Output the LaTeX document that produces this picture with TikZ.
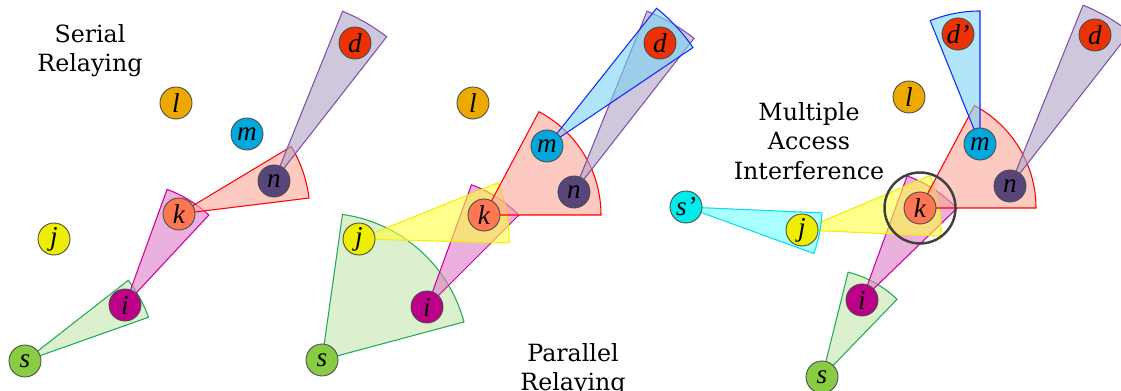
\documentclass[tikz,border=0pt]{standalone}
\usepackage{fontspec}
\setmainfont{DejaVu Serif}
\newfontfamily\letterfont{Liberation Serif}
\usetikzlibrary{backgrounds}

\definecolor{rimgray}{RGB}{75,75,75}
\definecolor{ringgray}{RGB}{64,64,64}
\definecolor{dcol}{RGB}{235,50,5}
\definecolor{lcol}{RGB}{236,170,0}
\definecolor{mcol}{RGB}{0,168,222}
\definecolor{ncol}{RGB}{88,70,122}
\definecolor{kcol}{RGB}{255,118,85}
\definecolor{jcol}{RGB}{238,238,0}
\definecolor{icol}{RGB}{188,0,136}
\definecolor{scol}{RGB}{136,204,68}
\definecolor{spcol}{RGB}{0,236,236}
\definecolor{gline}{RGB}{30,170,90}
\definecolor{gfill}{RGB}{197,230,172}
\definecolor{mline}{RGB}{204,0,160}
\definecolor{mfill}{RGB}{223,123,197}
\definecolor{rline}{RGB}{255,0,0}
\definecolor{rfill}{RGB}{250,167,150}
\definecolor{pline}{RGB}{128,80,168}
\definecolor{pfill}{RGB}{175,163,197}
\definecolor{yline}{RGB}{240,240,0}
\definecolor{yfill}{RGB}{255,255,63}
\definecolor{bline}{RGB}{16,40,255}
\definecolor{bfill}{RGB}{123,210,243}
\definecolor{cline}{RGB}{0,224,240}
\definecolor{cfill}{RGB}{113,255,255}

\begin{document}
\begin{tikzpicture}
  [
    x = 0.02cm, y = 0.02cm,
    station/.style = {circle, draw = rimgray, line width = 0.5pt, minimum size = 0.64cm, inner sep = 0pt,
                      font = \letterfont\itshape\fontsize{15.5}{15.5}\selectfont},
    caption/.style = {align = center, anchor = north, inner sep = 0pt, font = \fontsize{13.5}{16.8}\selectfont},
    beam/.style = {line width = 0.6pt, fill opacity = 0.6},
    greenbeam/.style = {beam, draw = gline, fill = gfill},
    pinkbeam/.style = {beam, draw = mline, fill = mfill},
    redbeam/.style = {beam, draw = rline, fill = rfill},
    purplebeam/.style = {beam, draw = pline, fill = pfill},
    yellowbeam/.style = {beam, draw = yline, fill = yfill},
    bluebeam/.style = {beam, draw = bline, fill = bfill},
    cyanbeam/.style = {beam, draw = cline, fill = cfill}
  ]
    \useasboundingbox (0,0) rectangle (1121,391);

    % serial relaying
    \node (d1) [station, fill = dcol] at (355,348) {d};
    \node (l1) [station, fill = lcol] at (176,288) {l};
    \node (m1) [station, fill = mcol] at (247,257) {m};
    \node (n1) [station, fill = ncol] at (274,210) {n};
    \node (k1) [station, fill = kcol] at (179,177) {k};
    \node (j1) [station, fill = jcol] at (54,152) {j};
    \node (i1) [station, fill = icol] at (125,86) {i};
    \node (s1) [station, fill = scol] at (25,30) {s};
    \node (serial) [caption] at (90,367) {Serial\\Relaying};

    % parallel relaying
    \node (d2) [station, fill = dcol] at (660,348) {d};
    \node (l2) [station, fill = lcol] at (473,288) {l};
    \node (m2) [station, fill = mcol] at (547,245) {m};
    \node (n2) [station, fill = ncol] at (574,199) {n};
    \node (k2) [station, fill = kcol] at (484,176) {k};
    \node (j2) [station, fill = jcol] at (359,152) {j};
    \node (i2) [station, fill = icol] at (427,84) {i};
    \node (s2) [station, fill = scol] at (322,31) {s};
    \node (parallel) [caption] at (573,48) {Parallel\\Relaying};

    % multiple access interference
    \node (dp3) [station, fill = dcol] at (958,357) {d’};
    \node (d3) [station, fill = dcol] at (1095,356) {d};
    \node (l3) [station, fill = lcol] at (909,294) {l};
    \node (m3) [station, fill = mcol] at (980,247) {m};
    \node (n3) [station, fill = ncol] at (1010,205) {n};
    \node (k3) [station, fill = kcol] at (920,183) {k};
    \node (j3) [station, fill = jcol] at (802,161) {j};
    \node (sp3) [station, fill = spcol] at (686,184) {s’};
    \node (i3) [station, fill = icol] at (862,91) {i};
    \node (s3) [station, fill = scol] at (822,14) {s};
    \node (ring) [circle, draw = ringgray, line width = 1.4pt, minimum size = 1.42cm] at (k3) {};
    \node (mai) [caption] at (809,289) {Multiple\\Access\\Interference};

    \begin{scope}[on background layer]
      \filldraw [greenbeam] (s1.center) -- ++(19.5:131) arc [start angle = 19.5, end angle = 38, radius = 131] -- cycle;
      \filldraw [pinkbeam] (i1.center) -- ++(47:123) arc [start angle = 47, end angle = 70, radius = 123] -- cycle;
      \filldraw [redbeam] (k1.center) -- ++(7:131) arc [start angle = 7, end angle = 31, radius = 131] -- cycle;
      \filldraw [purplebeam] (n1.center) -- ++(52:183) arc [start angle = 52, end angle = 68, radius = 183] -- cycle;

      \filldraw [greenbeam] (s2.center) -- ++(15:147) arc [start angle = 15, end angle = 82, radius = 147] -- cycle;
      \filldraw [pinkbeam] (i2.center) -- ++(45:130) arc [start angle = 45, end angle = 70, radius = 130] -- cycle;
      \filldraw [yellowbeam] (j2.center) -- ++(-1.5:150) arc [start angle = -1.5, end angle = 22, radius = 150] -- cycle;
      \filldraw [redbeam] (k2.center) -- ++(0:117) arc [start angle = 0, end angle = 62, radius = 117] -- cycle;
      \filldraw [purplebeam] (n2.center) -- ++(52:195) arc [start angle = 52, end angle = 68, radius = 195] -- cycle;
      \filldraw [bluebeam] (m2.center) -- ++(34:176) arc [start angle = 34, end angle = 51.5, radius = 176] -- cycle;

      \filldraw [greenbeam] (s3.center) -- ++(46:108) arc [start angle = 46, end angle = 76, radius = 108] -- cycle;
      \filldraw [pinkbeam] (i3.center) -- ++(44:132) arc [start angle = 44, end angle = 70, radius = 132] -- cycle;
      \filldraw [yellowbeam] (j3.center) -- ++(-2.5:139) arc [start angle = -2.5, end angle = 23, radius = 139] -- cycle;
      \filldraw [cyanbeam] (sp3.center) -- ++(-20:136) arc [start angle = -20, end angle = -2.5, radius = 136] -- cycle;
      \filldraw [redbeam] (k3.center) -- ++(0:116) arc [start angle = 0, end angle = 62, radius = 116] -- cycle;
      \filldraw [bluebeam] (m3.center) -- ++(90:133) arc [start angle = 90, end angle = 112, radius = 133] -- cycle;
      \filldraw [purplebeam] (n3.center) -- ++(52:195) arc [start angle = 52, end angle = 68, radius = 195] -- cycle;
    \end{scope}
\end{tikzpicture}
\end{document}
